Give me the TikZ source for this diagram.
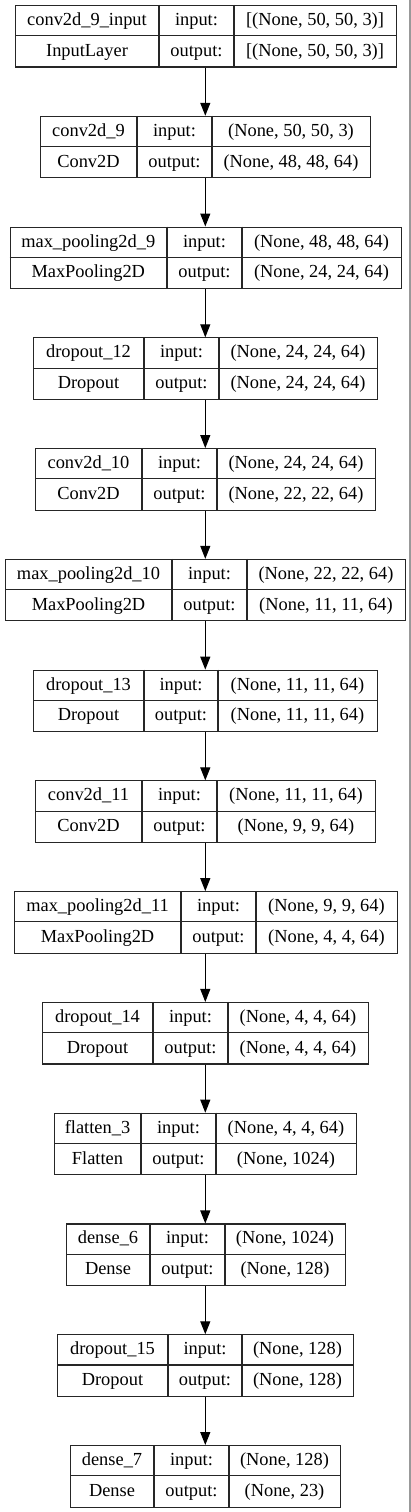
\documentclass[tikz,border=0pt]{standalone}
\usepackage{fontspec}
\setmainfont{Liberation Serif}
\usetikzlibrary{arrows.meta}
\tikzset{
  box/.style={draw=black!85, line width=1.1pt, rectangle, inner sep=0pt, minimum height=61.5pt},
  sep/.style={draw=black!85, line width=1.1pt},
  txt/.style={anchor=base, inner sep=0pt, font=\fontsize{18.4}{20}\selectfont},
  arr/.style={draw=black, line width=1.1pt, -{Triangle[length=13pt,width=10pt]}},
  edge/.style={draw=black!40, line width=1.4pt}
}
\newcommand\layer[9]{%
  \pgfmathsetmacro\ltop{5+110.77*(#1-1)}%
  \pgfmathsetmacro\lw{#5-#2}%
  \node[box, minimum width=\lw pt, anchor=north west] (b#1) at (#2,\ltop) {};
  \draw[sep] (#2,\ltop+30.75) -- (#5,\ltop+30.75);
  \draw[sep] (#3,\ltop) -- (#3,\ltop+61.5);
  \draw[sep] (#4,\ltop) -- (#4,\ltop+61.5);
  \node[txt] (b#1n) at ({(#2+#3)/2},\ltop+20.5) {#6};
  \node[txt] (b#1t) at ({(#2+#3)/2},\ltop+51.3) {#7};
  \node[txt] (b#1i) at ({(#3+#4)/2},\ltop+20.5) {input:};
  \node[txt] (b#1o) at ({(#3+#4)/2},\ltop+51.3) {output:};
  \node[txt] (b#1ii) at ({(#4+#5)/2},\ltop+20.5) {#8};
  \node[txt] (b#1oo) at ({(#4+#5)/2},\ltop+51.3) {#9};
}
\begin{document}
\begin{tikzpicture}[x=1pt,y=-1pt]
\useasboundingbox (0,0) rectangle (411,1512);
\fill[white] (0,0) rectangle (411,1512);
\draw[edge] (410,0) -- (410,1512);
\coordinate (ax) at (205.3,0);
\layer{1}{15}{159}{234}{396}{conv2d\_9\_input}{InputLayer}{[(None, 50, 50, 3)]}{[(None, 50, 50, 3)]}
\layer{2}{40}{137}{212}{370}{conv2d\_9}{Conv2D}{(None, 50, 50, 3)}{(None, 48, 48, 64)}
\layer{3}{9.5}{167}{242}{401}{max\_pooling2d\_9}{MaxPooling2D}{(None, 48, 48, 64)}{(None, 24, 24, 64)}
\layer{4}{33}{144}{219}{377}{dropout\_12}{Dropout}{(None, 24, 24, 64)}{(None, 24, 24, 64)}
\layer{5}{35}{142}{217}{375}{conv2d\_10}{Conv2D}{(None, 24, 24, 64)}{(None, 22, 22, 64)}
\layer{6}{5}{172}{247}{405}{max\_pooling2d\_10}{MaxPooling2D}{(None, 22, 22, 64)}{(None, 11, 11, 64)}
\layer{7}{33}{144}{218}{377}{dropout\_13}{Dropout}{(None, 11, 11, 64)}{(None, 11, 11, 64)}
\layer{8}{35}{142}{217}{375}{conv2d\_11}{Conv2D}{(None, 11, 11, 64)}{(None, 9, 9, 64)}
\layer{9}{14}{181}{256}{397}{max\_pooling2d\_11}{MaxPooling2D}{(None, 9, 9, 64)}{(None, 4, 4, 64)}
\layer{10}{42}{153}{228}{368}{dropout\_14}{Dropout}{(None, 4, 4, 64)}{(None, 4, 4, 64)}
\layer{11}{54}{141}{216}{356}{flatten\_3}{Flatten}{(None, 4, 4, 64)}{(None, 1024)}
\layer{12}{66}{150}{225}{345}{dense\_6}{Dense}{(None, 1024)}{(None, 128)}
\layer{13}{57}{168}{242}{353}{dropout\_15}{Dropout}{(None, 128)}{(None, 128)}
\layer{14}{70}{154}{229}{340}{dense\_7}{Dense}{(None, 128)}{(None, 23)}
\foreach \i in {1,...,13}{
  \pgfmathtruncatemacro\j{\i+1}
  \draw[arr] (b\i.south -| ax) -- (b\j.north -| ax);
}
\end{tikzpicture}
\end{document}
